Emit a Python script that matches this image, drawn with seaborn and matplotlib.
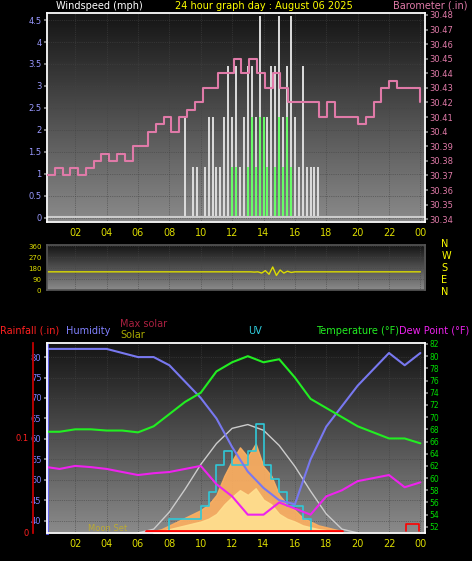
import numpy as np
import matplotlib
matplotlib.use("Agg")
import matplotlib.pyplot as plt
import seaborn as sns

sns.set_theme(style="dark")
plt.rcParams['font.family'] = ['DejaVu Sans']

hours_label = ["02","04","06","08","10","12","14","16","18","20","22","00"]
baro = [30.37,30.375,30.37,30.375,30.37,30.375,30.38,30.385,30.38,30.385,30.38,30.39,30.39,30.4,30.405,
        30.41,30.4,30.41,30.415,30.42,30.43,30.43,30.44,30.44,30.45,30.44,30.45,30.44,30.43,30.44,30.43,
        30.42,30.42,30.42,30.42,30.41,30.42,30.41,30.41,30.41,30.405,30.41,30.42,30.43,30.435,30.43,30.43,30.43,30.42]
gust = [2.3,0,1.15,1.15,0,1.15,2.3,2.3,1.15,1.15,2.3,3.45,2.3,3.45,1.15,2.3,3.45,3.45,2.3,4.6,1.15,2.3,
        3.45,3.45,4.6,2.3,3.45,4.6,2.3,1.15,3.45,1.15,1.15,1.15,1.15,0,0]
wind = [0,0,0,0,0,0,0,0,0,0,0,0,1.15,1.15,0,0,1.15,2.3,1.15,2.3,2.3,1.15,0,1.15,2.3,1.15,2.3,1.15,0,0,0,0,0,0,0,0,0]
wdir = [150,150,150,150,150,150,150,150,150,150,150,148,150,140,160,130,190,120,165,140,155,145,150,150,150,150,150]
humidity = [82,82,82,82,82,81,80,80,78,74,70,65,58,52,48,45,44,55,63,68,73,77,81,78,81]
temperature = [67.6,67.6,68,68,67.8,67.8,67.5,68.5,70.5,72.5,74,77.5,79,80,79,79.5,76.5,73,71.5,70,68.5,67.5,66.5,66.5,65.7]
dewpoint = [61.8,61.5,62,61.8,61.5,61,60.5,60.8,61,61.5,62,59,57,54,54,56,55,54,57,58,59.5,60,60.5,58.5,59.3]
uv = [0,0,1,1,1,1,2,3,5,6,5,5,6,8,5,4,3,2,2,1,0]
solar = [10,20,40,60,80,100,120,150,200,300,380,450,400,470,350,300,200,150,120,80,60,40,30,20,10]
maxsolar = [0,20,110,230,360,470,550,570,540,460,350,220,100,20,0]

fig = plt.figure(figsize=(4.72, 5.61), dpi=100, facecolor="black")
grad = np.linspace(0, 1, 100).reshape(-1, 1)
cmap = matplotlib.colors.LinearSegmentedColormap.from_list("g", ["#8a8a8a", "#151515"])

def setup(ax):
    ax.set_facecolor("#101010")
    ax.imshow(grad, cmap=cmap, extent=[0, 1, 0, 1], transform=ax.transAxes,
              aspect="auto", zorder=0, origin="lower")
    ax.set_xlim(0.2, 24.3)
    ax.set_xticks(range(2, 25, 2))
    ax.set_xticklabels(hours_label, fontsize=7)
    ax.grid(True, color="#444444", lw=0.5, ls=":")
    for s in ax.spines.values():
        s.set_color("#555555")
    ax.tick_params(axis="both", length=2, pad=2, colors="#888888")
    ax.tick_params(axis="x", labelcolor="#dddd00")

# Top panel
ax1 = fig.add_axes([0.0996, 0.604, 0.801, 0.372])
setup(ax1)
tg = np.linspace(9, 18, len(gust))
ax1.vlines(tg, 0, gust, color="#dddddd", lw=1.4, zorder=2)
ax1.vlines(tg, 0, wind, color="#66ff66", lw=1.4, zorder=3)
ax1.axhline(0.02, color="#cccccc", lw=1.5, zorder=3)
ax1.set_ylim(-0.1, 4.65)
ax1.set_yticks(np.arange(0, 4.6, 0.5))
ax1.set_yticklabels(["0","0.5","1","1.5","2","2.5","3","3.5","4","4.5"], fontsize=6)
ax1.tick_params(axis="y", labelcolor="#9999ff")
ax1b = ax1.twinx()
tb = np.linspace(0.2, 24, len(baro))
sns.lineplot(x=tb, y=baro, ax=ax1b, color="#e07aa8", lw=1.5, drawstyle="steps-post", zorder=4)
ax1b.set_ylim(30.338, 30.481)
ticks = np.round(np.arange(30.34, 30.481, 0.01), 2)
ax1b.set_yticks(ticks)
ax1b.set_yticklabels([f"{v:.2f}" if v != 30.40 else "30.4" for v in ticks], color="#e07aa8", fontsize=6)
ax1b.tick_params(length=2, pad=1, colors="#888888", labelcolor="#e07aa8")
ax1b.grid(False)
fig.text(0.21, 0.999, "Windspeed (mph)", color="white", fontsize=7, va="top", ha="center")
fig.text(0.37, 0.999, "24 hour graph day : August 06 2025", color="#ffff00", fontsize=7, va="top")
fig.text(0.99, 0.999, "Barometer (.in)", color="#e07aa8", fontsize=7, va="top", ha="right")

# Middle panel
ax2 = fig.add_axes([0.0996, 0.483, 0.801, 0.080])
setup(ax2)
td = np.concatenate([np.linspace(0.2, 11.5, 5), np.linspace(12, 16, 18), np.linspace(17, 24, 4)])
sns.lineplot(x=td, y=wdir, ax=ax2, color="#dddd00", lw=1)
ax2.set_ylim(0, 370)
ax2.set_yticks([0, 90, 180, 270, 360])
ax2.set_yticklabels(["0","90","180","270","360"], fontsize=5)
ax2.tick_params(axis="y", labelcolor="#dddd00")
ax2.set_xticklabels([])
for i, l in enumerate(["N", "W", "S", "E", "N"]):
    fig.text(0.935, 0.565 - i * 0.0215, l, color="#ffff00", fontsize=7, va="center")

# Bottom panel
ax3 = fig.add_axes([0.0996, 0.05, 0.801, 0.339])
setup(ax3)
ax3.set_ylim(37, 83.5)
ax3.set_yticks([40, 45, 50, 55, 60, 65, 70, 75, 80])
ax3.set_yticklabels([str(v) for v in [40,45,50,55,60,65,70,75,80]], fontsize=6)
ax3.tick_params(axis="y", labelcolor="#8080ff")
ax3.spines["left"].set_color("#6060ff")
ax3.spines["left"].set_linewidth(2)

axs = ax3.twinx()
axs.set_ylim(0, 1000)
axs.axis("off")
ts = np.linspace(7, 19, len(solar))
axs.fill_between(ts, 0, solar, color="#ffb060", alpha=0.9, zorder=1)
axs.fill_between(ts, 0, np.array(solar) * 0.5, color="#ffe090", alpha=0.9, zorder=1)
tm = np.linspace(6, 20, len(maxsolar))
axs.plot(tm, maxsolar, color="#cccccc", lw=1)

axu = ax3.twinx()
axu.set_ylim(0, 14)
axu.axis("off")
tu = np.linspace(7, 17, len(uv))
axu.plot(tu, uv, color="#30c8d8", lw=1.2, drawstyle="steps-post")

th = np.arange(0, 25) + 0.0
th[0] = 0.2
axh = ax3.twinx()
axh.set_ylim(37, 83.5)
axh.axis("off")
sns.lineplot(x=th, y=humidity, ax=axh, color="#7878f0", lw=1.5)

axt = ax3.twinx()
axt.set_ylim(51, 82.2)
axt.set_yticks(range(52, 83, 2))
axt.set_yticklabels([str(v) for v in range(52, 83, 2)], fontsize=5.5)
axt.tick_params(length=2, pad=1, colors="#888888", labelcolor="#00dd00")
axt.grid(False)
sns.lineplot(x=th, y=temperature, ax=axt, color="#22ee22", lw=1.5)
sns.lineplot(x=th, y=dewpoint, ax=axt, color="#ee22ee", lw=1.5)
axt.set_ylabel("")
axt.plot([6.5, 19], [51.3, 51.3], color="red", lw=2)
axt.plot([23.1, 23.1, 23.9, 23.9], [51.3, 52.5, 52.5, 51.3], color="red", lw=1.2)
ax3.text(2.8, 37.5, "Moon Set", color="#bbaa33", fontsize=6)

axr = fig.add_axes([0.07, 0.05, 0.001, 0.339])
axr.set_ylim(0, 0.2)
axr.set_facecolor("black")
for k, s in axr.spines.items():
    s.set_visible(k == "left")
axr.spines["left"].set_color("#cc0000")
axr.set_xticks([])
axr.set_yticks([0, 0.1, 0.2])
axr.set_yticklabels(["0", "0.1", ""], fontsize=6)
axr.tick_params(colors="#cc0000", labelcolor="#ff2020", length=2, pad=1)

fig.text(0.0, 0.405, "Rainfall (.in)", color="#ff2020", fontsize=7)
fig.text(0.14, 0.405, "Humidity", color="#8080ff", fontsize=7)
fig.text(0.255, 0.418, "Max solar", color="#aa2040", fontsize=7)
fig.text(0.255, 0.398, "Solar", color="#aaaa00", fontsize=7)
fig.text(0.525, 0.405, "UV", color="#30d0e0", fontsize=7)
fig.text(0.67, 0.405, "Temperature (°F)", color="#22ee22", fontsize=7)
fig.text(0.845, 0.405, "Dew Point (°F)", color="#ee22ee", fontsize=7)

fig.savefig("out.png", dpi=100, facecolor="black")
